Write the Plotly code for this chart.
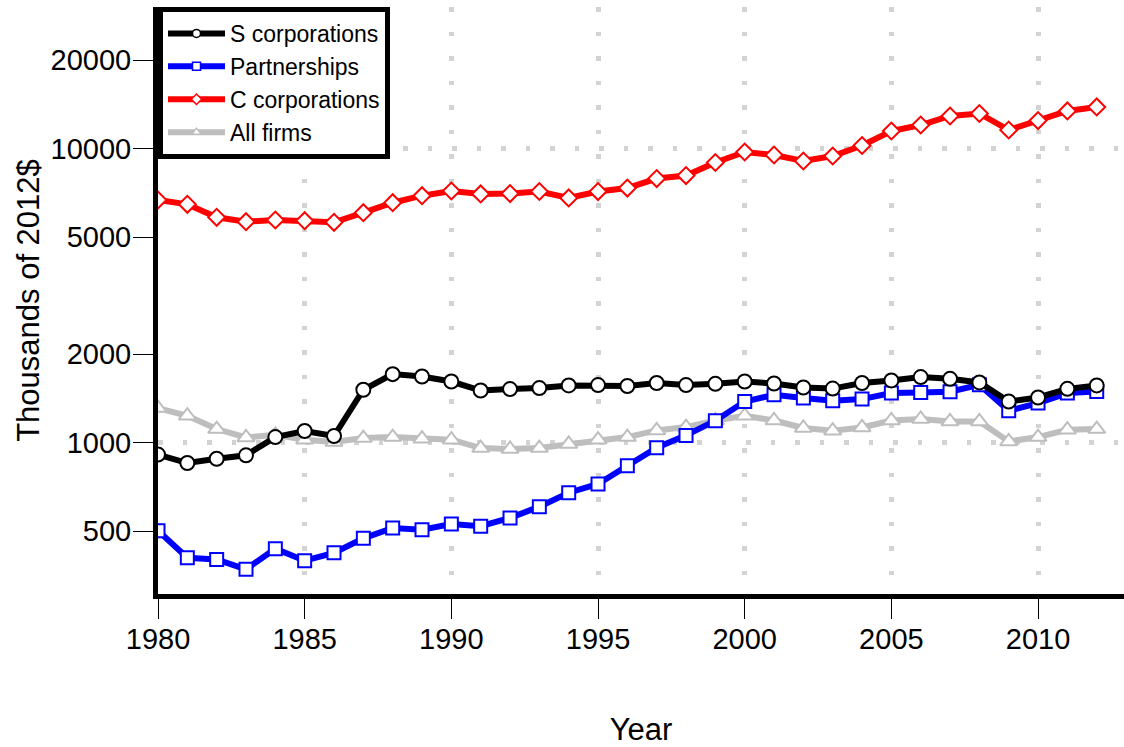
import plotly.graph_objects as go

# Average firm size by legal form, thousands of 2012 dollars
years = list(range(1980, 2013))

s_corporations = [911, 853, 882, 906, 1045, 1096, 1054, 1514, 1711, 1680, 1615,
                  1505, 1522, 1534, 1566, 1570, 1559, 1596, 1570, 1586, 1615, 1590,
                  1541, 1528, 1596, 1629, 1672, 1649, 1603, 1381, 1425, 1525, 1566]

partnerships = [502, 406, 401, 371, 436, 397, 422, 473, 513, 506, 529,
                520, 555, 606, 676, 724, 835, 962, 1059, 1188, 1381, 1455,
                1419, 1389, 1407, 1475, 1482, 1490, 1574, 1284, 1364, 1475, 1494]

c_corporations = [6691, 6470, 5845, 5646, 5722, 5691, 5620, 6058, 6551, 6921, 7181,
                  7015, 7040, 7153, 6800, 7150, 7350, 7916, 8104, 8977, 9745, 9520,
                  9082, 9446, 10254, 11488, 12040, 12920, 13175, 11578, 12470, 13440, 13866]

all_firms = [1312, 1235, 1113, 1042, 1064, 1024, 1005, 1037, 1045, 1032, 1024,
             959, 952, 959, 990, 1024, 1045, 1101, 1130, 1190, 1235, 1190,
             1122, 1099, 1127, 1190, 1204, 1181, 1181, 1010, 1045, 1107, 1113]

y_ticks = [500, 1000, 2000, 5000, 10000, 20000]
x_ticks = [1980, 1985, 1990, 1995, 2000, 2005, 2010]

FONT = "Liberation Sans, Arial, Helvetica, sans-serif"
GRID = "#D3D3D3"

# (name, values, colour, marker symbol, marker size) -- drawing order
series = [
    ("All firms", all_firms, "#BEBEBE", "triangle-up", 15),
    ("Partnerships", partnerships, "#0000FF", "square", 13),
    ("S corporations", s_corporations, "#000000", "circle", 14),
    ("C corporations", c_corporations, "#FF0000", "diamond", 13),
]
legend_order = ["S corporations", "Partnerships", "C corporations", "All firms"]

fig = go.Figure()
for name, vals, col, sym, size in series:
    fig.add_trace(go.Scatter(
        x=years, y=vals, mode="lines+markers", name=name, showlegend=False,
        line=dict(color=col, width=6),
        marker=dict(symbol=sym, size=size, color="white",
                    line=dict(color=col, width=2)),
    ))

# legend entries with small markers
style = {s[0]: s for s in series}
for name in legend_order:
    _, _, col, sym, _ = style[name]
    fig.add_trace(go.Scatter(
        x=[None], y=[None], mode="lines+markers", name=name,
        line=dict(color=col, width=6),
        marker=dict(symbol=sym, size=8, color="white",
                    line=dict(color=col, width=1.5)),
    ))

fig.update_layout(
    width=1124, height=747,
    margin=dict(l=158, r=0, t=7, b=153),
    paper_bgcolor="white", plot_bgcolor="white",
    font=dict(family=FONT, color="black", size=29),
    showlegend=True,
    legend=dict(
        x=0, y=1, xanchor="left", yanchor="top",
        bgcolor="white", bordercolor="black", borderwidth=5,
        font=dict(family=FONT, size=23, color="black"),
        itemwidth=57, tracegroupgap=0,
    ),
    xaxis=dict(
        range=[1980, 2012.93],
        tickmode="array", tickvals=x_ticks, ticktext=[str(v) for v in x_ticks],
        ticks="outside", ticklen=20, tickwidth=1, tickcolor="black",
        showline=True, linewidth=5, linecolor="black",
        showgrid=True, gridcolor=GRID, gridwidth=5, griddash="4.5px,20px",
        zeroline=False,
        tickfont=dict(size=29), ticklabelstandoff=-5,
        title=dict(text="Year", font=dict(size=31), standoff=72),
    ),
    yaxis=dict(
        type="log", range=[2.4854, 4.482],
        tickmode="array", tickvals=y_ticks, ticktext=[str(v) for v in y_ticks],
        ticks="outside", ticklen=20, tickwidth=1, tickcolor="black",
        showline=True, linewidth=5, linecolor="black",
        showgrid=False, zeroline=False,
        minor=dict(tickmode="array", tickvals=[1000, 10000], ticks="",
                   showgrid=True, gridcolor=GRID, gridwidth=5,
                   griddash="4.5px,20px"),
        tickfont=dict(size=29), ticklabelstandoff=-4,
        title=dict(text="Thousands of 2012$", font=dict(size=31), standoff=3),
    ),
)

fig.write_html("out.html")
